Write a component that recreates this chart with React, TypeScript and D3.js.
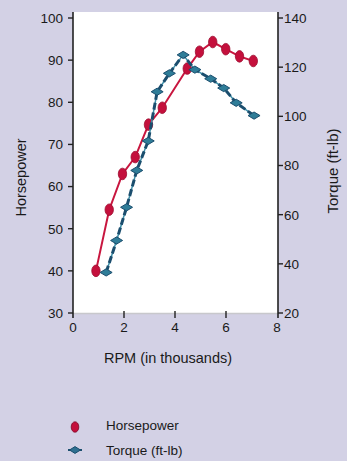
import React from "react";
import * as d3 from "d3";

const hpRpm = [0.9, 1.42, 1.94, 2.44, 2.96, 3.5, 4.48, 4.96, 5.48, 5.99, 6.53, 7.07];
const hpValues = [40, 54.5, 63, 67, 74.7, 78.7, 88, 92, 94.3, 92.6, 90.9, 89.8];
const tqRpm = [1.3, 1.71, 2.1, 2.5, 2.95, 3.3, 3.78, 4.32, 4.78, 5.4, 5.91, 6.4, 7.1];
const tqValues = [36.5, 49.5, 63, 78, 90, 110, 117.5, 125, 119, 115.3, 111.5, 105.5, 100.3];
const xTicks = [0, 2, 4, 6, 8];
const hpTicks = [30, 40, 50, 60, 70, 80, 90, 100];
const tqTicks = [20, 40, 60, 80, 100, 120, 140];
const legendItems = ["Horsepower", "Torque (ft-lb)"];

const W = 347;
const H = 461;
const FONT = "'Liberation Sans', Arial, sans-serif";
const INK = "#1a1a1a";

export default function App() {
  const x = d3.scaleLinear().domain([0, 8]).range([73, 277]);
  const yL = d3.scaleLinear().domain([30, 100]).range([313, 18]);
  const yR = d3.scaleLinear().domain([20, 140]).range([313, 18]);

  const hpPts: [number, number][] = hpRpm.map((r, i) => [x(r), yL(hpValues[i])]);
  const tqPts: [number, number][] = tqRpm.map((r, i) => [x(r), yR(tqValues[i])]);
  const line = d3.line();

  const diamond = (cx: number, cy: number, rx: number, ry: number) =>
    `M${cx - rx},${cy} L${cx},${cy - ry} L${cx + rx},${cy} L${cx},${cy + ry} Z`;

  return (
    <svg
      width={W}
      height={H}
      style={{ position: "absolute", left: 0, top: 0, display: "block" }}
      fontFamily={FONT}
    >
      <rect x={0} y={0} width={W} height={H} fill="#d3d1e5" />
      <rect x={73} y={12} width={205} height={301} fill="#ffffff" />
      <line x1={73} x2={278} y1={313.5} y2={313.5} stroke="#c8c8cc" strokeWidth={1.5} />

      {/* left axis */}
      <line x1={73} x2={73} y1={12} y2={318} stroke="#222" strokeWidth={1.6} />
      {hpTicks.map((t) => (
        <g key={"l" + t}>
          <line x1={68} x2={73} y1={yL(t)} y2={yL(t)} stroke="#222" strokeWidth={1.4} />
          <text x={63} y={yL(t)} dy="0.36em" textAnchor="end" fontSize={13.5} fill={INK}>
            {t}
          </text>
        </g>
      ))}

      {/* right axis */}
      <line x1={278} x2={278} y1={12} y2={318} stroke="#222" strokeWidth={1.6} />
      {tqTicks.map((t) => (
        <g key={"r" + t}>
          <line x1={278} x2={283} y1={yR(t)} y2={yR(t)} stroke="#222" strokeWidth={1.4} />
          <text x={284} y={yR(t)} dy="0.36em" textAnchor="start" fontSize={13.5} fill={INK}>
            {t}
          </text>
        </g>
      ))}

      {/* x axis */}
      {xTicks.map((t) => (
        <g key={"x" + t}>
          {t > 0 && t < 8 && (
            <line x1={x(t)} x2={x(t)} y1={311} y2={318} stroke="#222" strokeWidth={1.4} />
          )}
          <text x={x(t)} y={327} dy="0.36em" textAnchor="middle" fontSize={13.5} fill={INK}>
            {t}
          </text>
        </g>
      ))}

      <text x={168} y={358} dy="0.36em" textAnchor="middle" fontSize={14.5} fill={INK}>
        RPM (in thousands)
      </text>
      <text
        transform={`translate(21,177.5) rotate(-90)`}
        dy="0.36em"
        textAnchor="middle"
        fontSize={14.5}
        fill={INK}
      >
        Horsepower
      </text>
      <text
        transform={`translate(333,171) rotate(-90)`}
        dy="0.36em"
        textAnchor="middle"
        fontSize={15}
        fill={INK}
      >
        Torque (ft-lb)
      </text>

      {/* horsepower */}
      <path d={line(hpPts) || ""} fill="none" stroke="#c8163f" strokeWidth={2} />
      {hpPts.map((p, i) => (
        <ellipse key={"hp" + i} cx={p[0]} cy={p[1]} rx={4.2} ry={5.8} fill="#c4103c" stroke="#9c0c30" strokeWidth={0.8} />
      ))}

      {/* torque */}
      <path d={line(tqPts) || ""} fill="none" stroke="#3d8fa8" strokeWidth={1.5} />
      <path d={line(tqPts) || ""} fill="none" stroke="#1b4e6e" strokeWidth={3} strokeDasharray="7 3" />
      {tqPts.map((p, i) => (
        <path key={"tq" + i} d={diamond(p[0], p[1], 6, 3.6)} fill="#2f7d98" stroke="#1b4e6e" strokeWidth={1} />
      ))}

      {/* legend */}
      <ellipse cx={75} cy={427} rx={3.8} ry={5.2} fill="#c4103c" stroke="#7a0a28" strokeWidth={0.8} />
      <text x={106} y={425} dy="0.36em" fontSize={13.5} fill={INK}>
        {legendItems[0]}
      </text>
      <line x1={68} x2={82} y1={450} y2={450} stroke="#1b4e6e" strokeWidth={2} />
      <path d={diamond(75, 450, 5.5, 3.4)} fill="#2f6f90" stroke="#1b4e6e" strokeWidth={1} />
      <text x={106} y={450} dy="0.36em" fontSize={13.5} fill={INK}>
        {legendItems[1]}
      </text>
    </svg>
  );
}
